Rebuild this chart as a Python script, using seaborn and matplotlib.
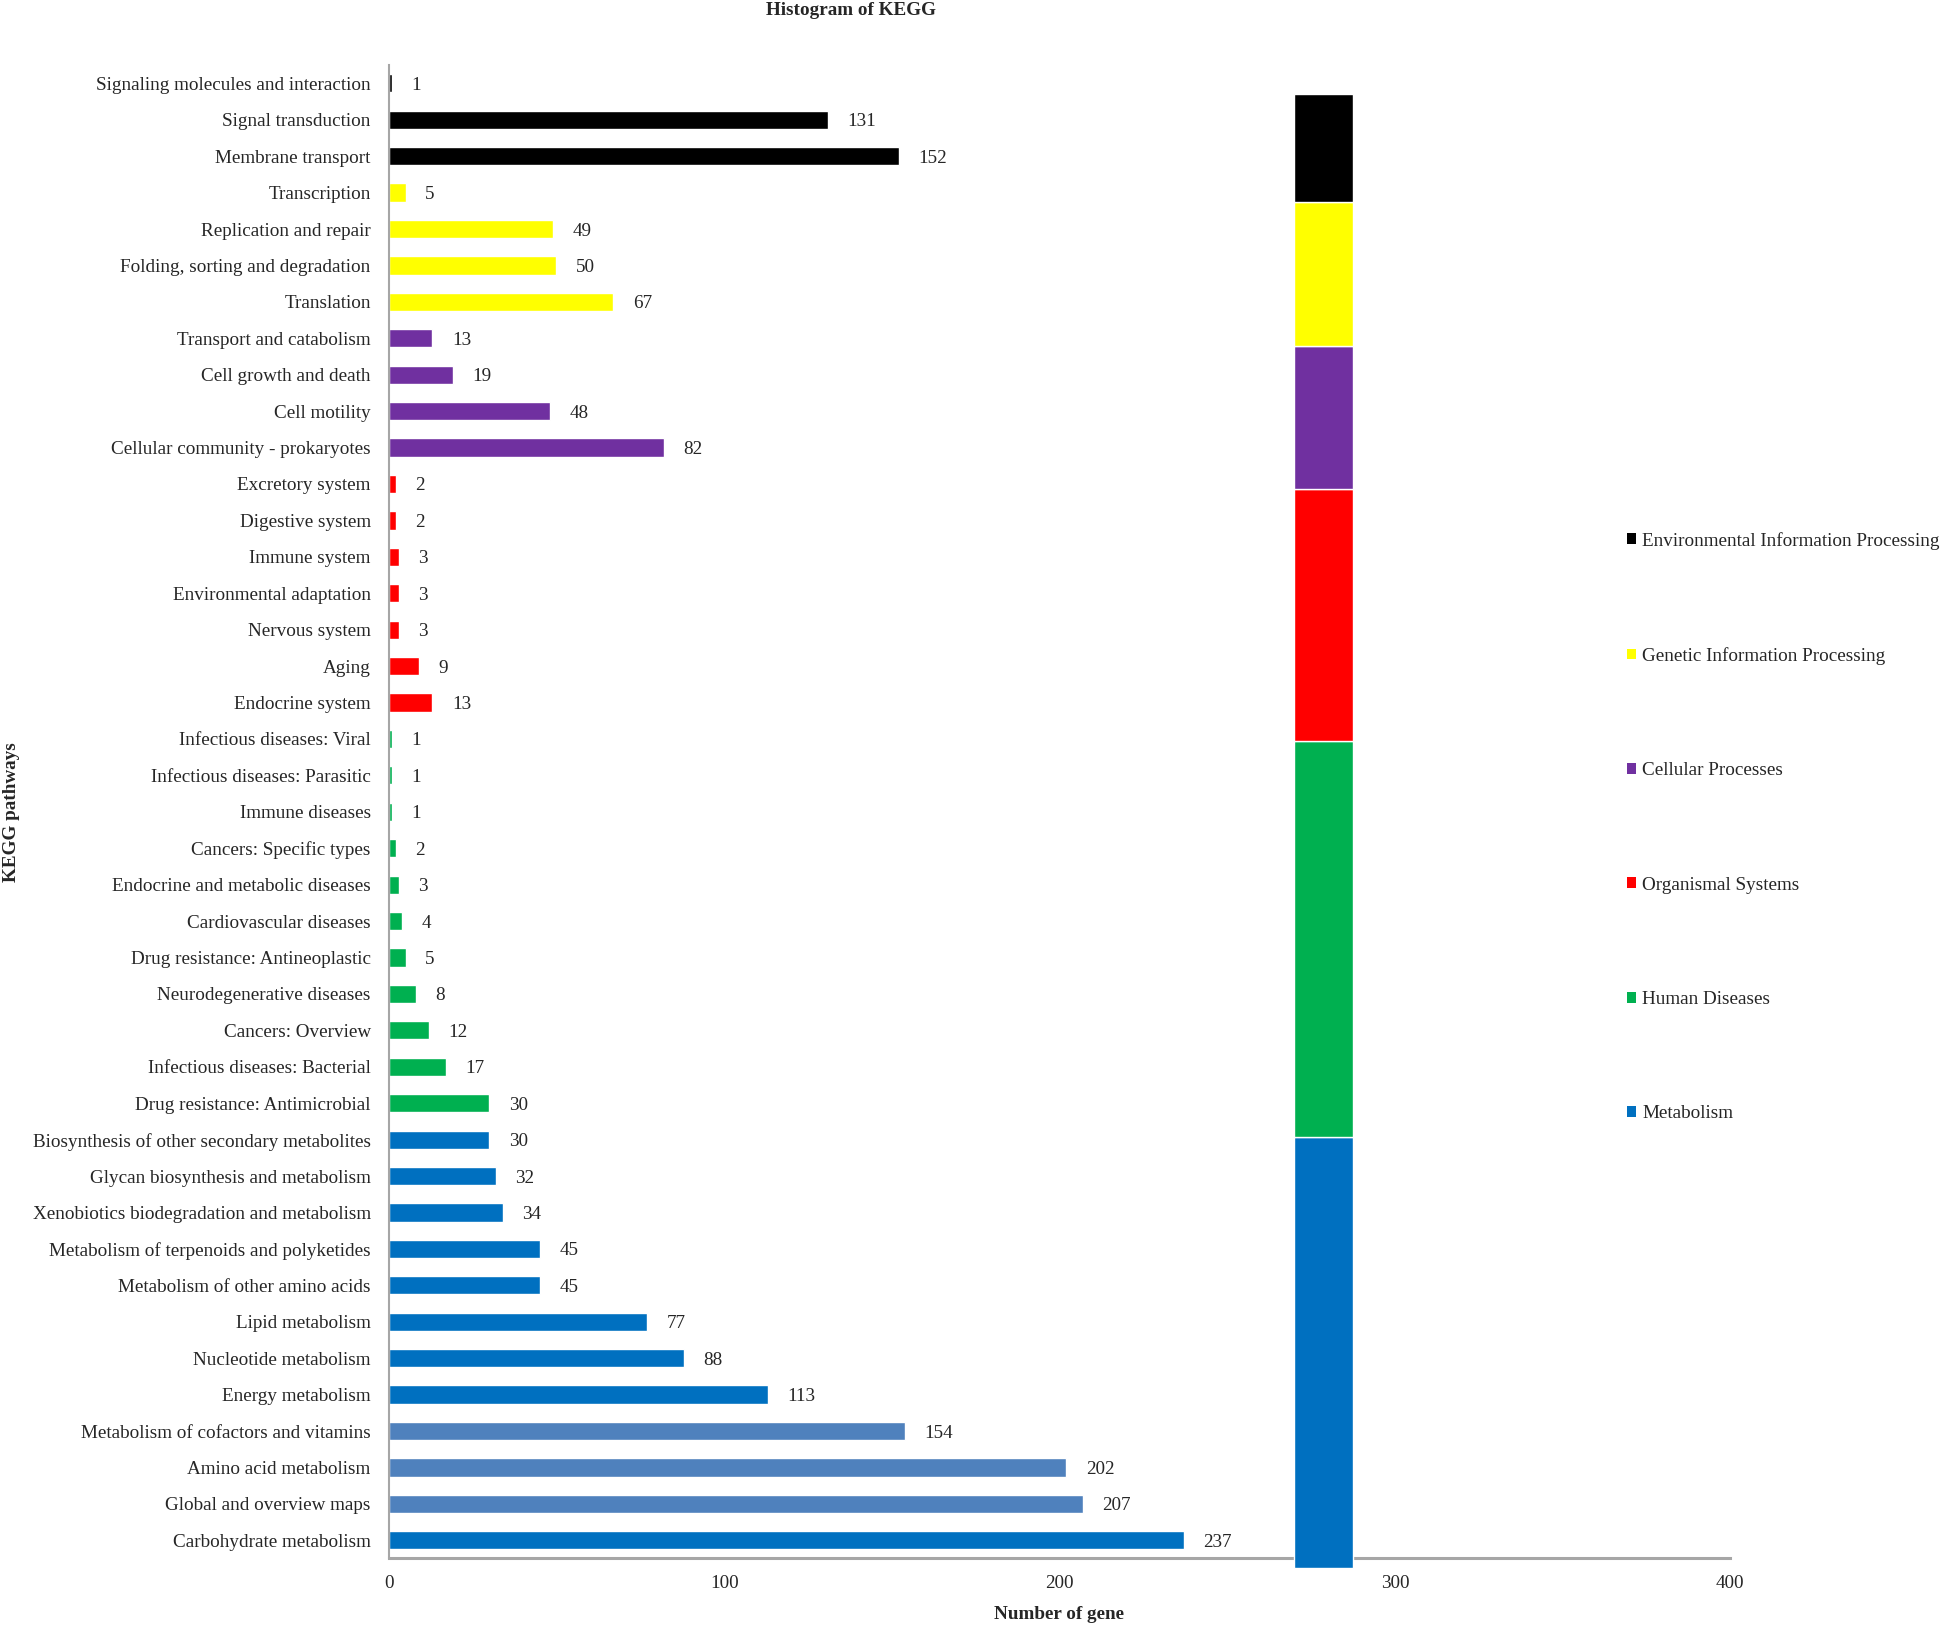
import matplotlib
matplotlib.use("Agg")
import matplotlib.pyplot as plt
import seaborn as sns
import pandas as pd
from matplotlib.patches import Patch

# KEGG level-2 pathways, top to bottom as in the figure
pathways = [
    "Signaling molecules and interaction", "Signal transduction", "Membrane transport",
    "Transcription", "Replication and repair", "Folding, sorting and degradation", "Translation",
    "Transport and catabolism", "Cell growth and death", "Cell motility",
    "Cellular community - prokaryotes",
    "Excretory system", "Digestive system", "Immune system", "Environmental adaptation",
    "Nervous system", "Aging", "Endocrine system",
    "Infectious diseases: Viral", "Infectious diseases: Parasitic", "Immune diseases",
    "Cancers: Specific types", "Endocrine and metabolic diseases", "Cardiovascular diseases",
    "Drug resistance: Antineoplastic", "Neurodegenerative diseases", "Cancers: Overview",
    "Infectious diseases: Bacterial", "Drug resistance: Antimicrobial",
    "Biosynthesis of other secondary metabolites", "Glycan biosynthesis and metabolism",
    "Xenobiotics biodegradation and metabolism", "Metabolism of terpenoids and polyketides",
    "Metabolism of other amino acids", "Lipid metabolism", "Nucleotide metabolism",
    "Energy metabolism", "Metabolism of cofactors and vitamins", "Amino acid metabolism",
    "Global and overview maps", "Carbohydrate metabolism",
]
gene_counts = [
    1, 131, 152,
    5, 49, 50, 67,
    13, 19, 48, 82,
    2, 2, 3, 3, 3, 9, 13,
    1, 1, 1, 2, 3, 4, 5, 8, 12, 17, 30,
    30, 32, 34, 45, 45, 77, 88, 113, 154, 202, 207, 237,
]
categories = (
    ["Environmental Information Processing"] * 3
    + ["Genetic Information Processing"] * 4
    + ["Cellular Processes"] * 4
    + ["Organismal Systems"] * 7
    + ["Human Diseases"] * 11
    + ["Metabolism"] * 12
)
# three metabolism bars are a lighter blue in the original
lighter = ["Metabolism of cofactors and vitamins", "Amino acid metabolism", "Global and overview maps"]

cat_colors = {
    "Environmental Information Processing": "#000000",
    "Genetic Information Processing": "#FFFF00",
    "Cellular Processes": "#7030A0",
    "Organismal Systems": "#FF0000",
    "Human Diseases": "#00B050",
    "Metabolism": "#0070C0",
}

df = pd.DataFrame({"Pathway": pathways, "Genes": gene_counts, "Category": categories})
bar_colors = ["#4F81BD" if p in lighter else cat_colors[c] for p, c in zip(pathways, categories)]

sns.set_style("white")
plt.rcParams["font.family"] = ["Liberation Serif", "DejaVu Serif"]
FS = 13.8

fig = plt.figure(figsize=(19.44, 16.28), dpi=100)
ax = fig.add_axes([0.2, 0.0427, 0.69, 0.9173])

sns.barplot(data=df, x="Genes", y="Pathway", hue="Pathway", palette=bar_colors,
            legend=False, width=0.5, ax=ax, saturation=1)

for cont in ax.containers:
    for t in ax.bar_label(cont, padding=14, fontsize=FS):
        t.set_va("center_baseline")

ax.set_xlim(0, 400)
ax.set_xticks([0, 100, 200, 300, 400])
ax.set_ylim(len(pathways) - 0.5, -0.5)
ax.tick_params(axis="y", length=0, labelsize=FS, pad=13)
ax.tick_params(axis="x", length=6, width=1.2, color="#A6A6A6", labelsize=FS, pad=6)
for s in ["top", "right"]:
    ax.spines[s].set_visible(False)
ax.spines["left"].set_color("#A6A6A6")
ax.spines["left"].set_linewidth(1.5)
ax.spines["bottom"].set_color("#A6A6A6")
ax.spines["bottom"].set_linewidth(2.2)
ax.set_xlabel("Number of gene", fontsize=FS, fontweight="bold", labelpad=10)
ax.set_ylabel("")
fig.text(0.0058, 0.0427 + 0.9173 / 2, "KEGG pathways", rotation=90, ha="center",
         va="center", fontsize=FS, fontweight="bold")

# stacked column: number of pathways in each category
cat_order = ["Metabolism", "Human Diseases", "Organismal Systems",
             "Cellular Processes", "Genetic Information Processing",
             "Environmental Information Processing"]
n_paths = df["Category"].value_counts().reindex(cat_order)
ax2 = ax.twinx()
bottom = 0
for cat, n in n_paths.items():
    ax2.bar(278.75, n, width=17.5, bottom=bottom, color=cat_colors[cat], clip_on=False)
    bottom += n
ax2.set_ylim(0.276, 41.8)
ax2.set_yticks([])
for s in ax2.spines.values():
    s.set_visible(False)

handles = [Patch(facecolor=cat_colors[c], edgecolor="none") for c in cat_order[::-1]]
fig.legend(handles, cat_order[::-1], loc="upper left", bbox_to_anchor=(0.828, 0.684),
           frameon=False, fontsize=FS, handlelength=0.5, handleheight=0.5,
           handletextpad=0.3, labelspacing=5.08)

fig.text(0.438, 0.9935, "Histogram of KEGG", ha="center", va="center",
         fontsize=FS, fontweight="bold")

fig.savefig("out.png", dpi=100)
